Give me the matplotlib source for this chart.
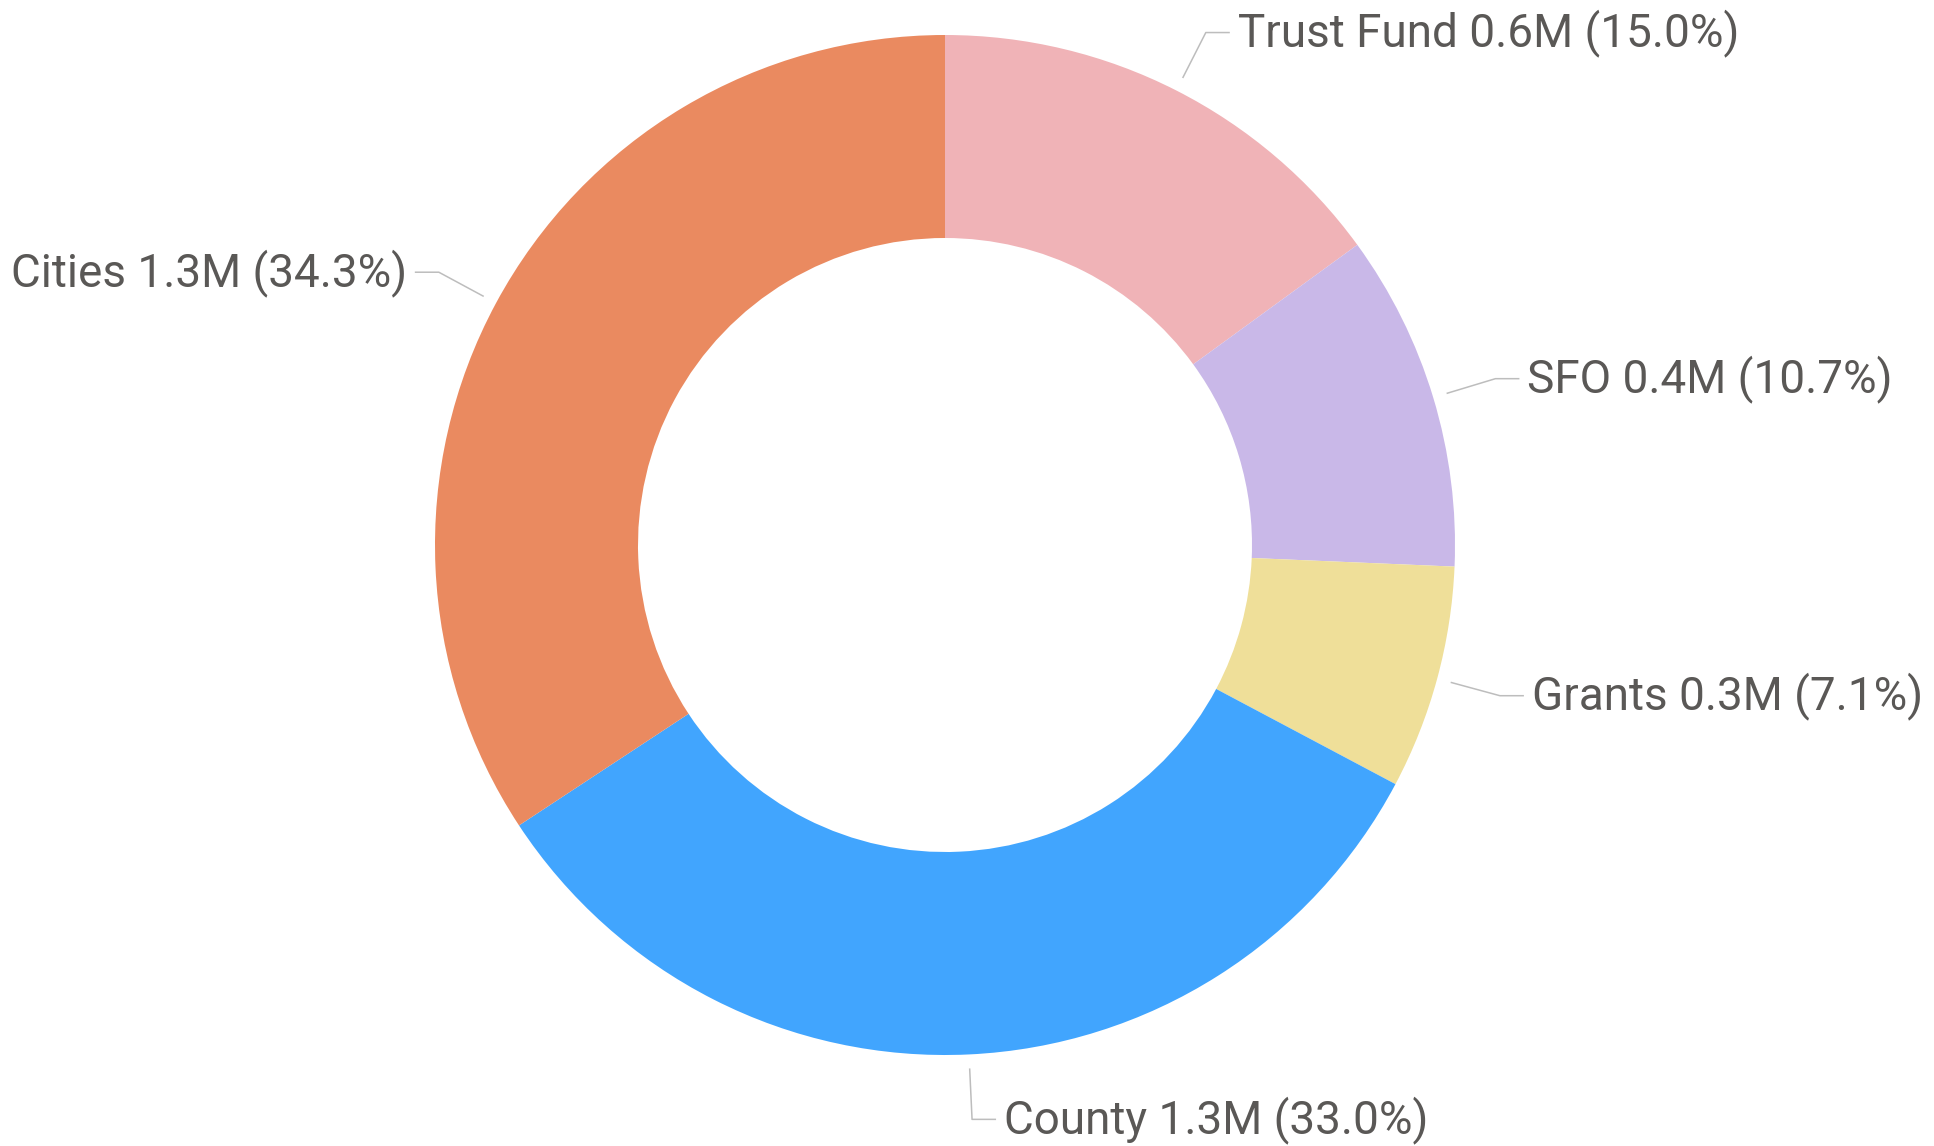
import numpy as np
import matplotlib
matplotlib.use("Agg")
import matplotlib.pyplot as plt

plt.rcParams["font.family"] = ["Roboto", "DejaVu Sans"]

labels = ["Trust Fund", "SFO", "Grants", "County", "Cities"]
values = [0.6, 0.4, 0.3, 1.3, 1.3]          # millions, as shown
shares = [15.0, 10.7, 7.1, 33.0, 34.3]      # percent
colors = ["#F0B3B7", "#C9B8E8", "#EFDF99", "#41A5FE", "#EA8A60"]

W, H = 1934, 1146
fig = plt.figure(figsize=(W / 100, H / 100), dpi=100)
ax = fig.add_axes([0, 0, 1, 1])
ax.set_xlim(0, W)
ax.set_ylim(0, H)
ax.set_aspect("equal")
ax.axis("off")

cx, cy = 945, 601
R = 510
wedges, _ = ax.pie(shares, colors=colors, startangle=90, counterclock=False,
                   radius=R, center=(cx, cy),
                   wedgeprops=dict(width=R - 307, linewidth=0))
ax.set_xlim(0, W)
ax.set_ylim(0, H)

# leader lines + labels
for w, lab, v, s in zip(wedges, labels, values, shares):
    ang = np.deg2rad((w.theta1 + w.theta2) / 2)
    c, sn = np.cos(ang), np.sin(ang)
    x0, y0 = cx + 524 * c, cy + 524 * sn
    x1, y1 = cx + 575 * c, cy + 575 * sn
    d = 1 if c >= 0 else -1
    x2 = x1 + 24 * d
    ax.plot([x0, x1, x2], [y0, y1, y1], color="#BDBDBD", lw=1.1,
            solid_capstyle="butt")
    ax.text(x2 + 8 * d, y1 + 5, f"{lab} {v:.1f}M ({s:.1f}%)",
            ha="left" if d > 0 else "right", va="center_baseline",
            fontsize=33, color="#5A5856")

fig.savefig("out.png", dpi=100, facecolor="white")
